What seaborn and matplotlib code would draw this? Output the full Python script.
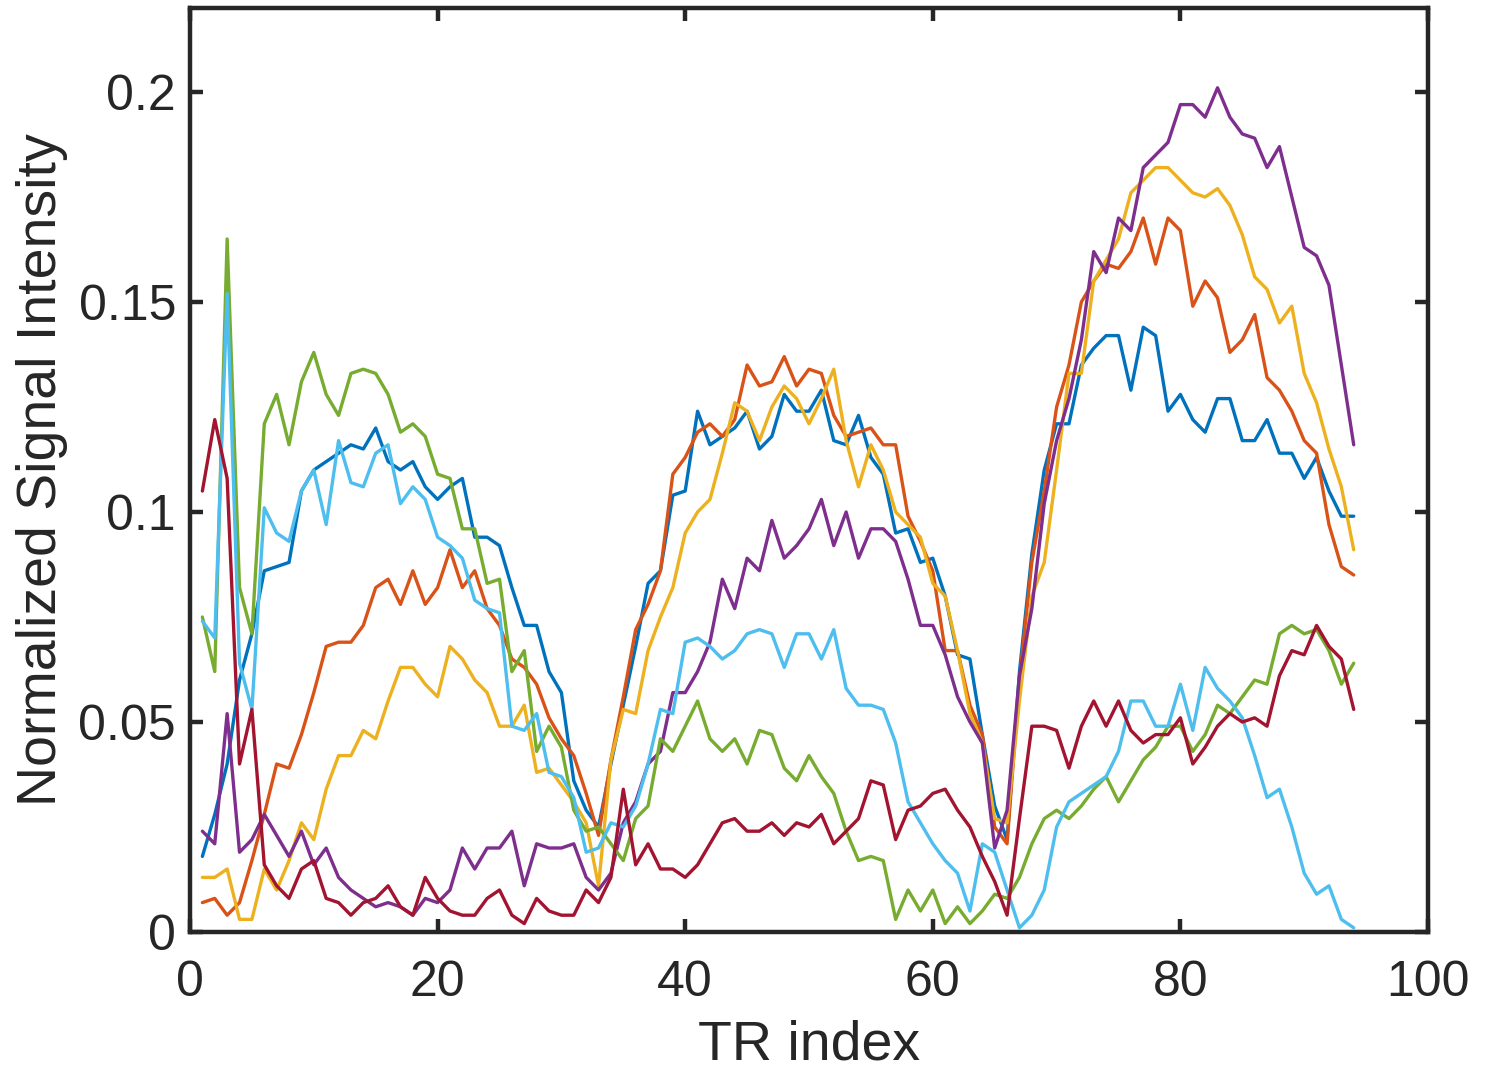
import numpy as np
import pandas as pd
import matplotlib
matplotlib.use("Agg")
import matplotlib.pyplot as plt
import seaborn as sns

tr_index = list(range(1, 95))

s1_blue = [0.018, 0.028, 0.040, 0.060, 0.071, 0.086, 0.087, 0.088, 0.105, 0.110, 0.112, 0.114, 0.116, 0.115, 0.120, 0.112, 0.110,
           0.112, 0.106, 0.103, 0.106, 0.108, 0.094, 0.094, 0.092, 0.082, 0.073, 0.073, 0.062, 0.057, 0.036, 0.029, 0.025,
           0.040, 0.054, 0.068, 0.083, 0.086, 0.104, 0.105, 0.124, 0.116, 0.118, 0.120, 0.124, 0.115, 0.118, 0.128, 0.124, 0.124,
           0.129, 0.117, 0.116, 0.123, 0.113, 0.109, 0.095, 0.096, 0.088, 0.089, 0.080, 0.066, 0.065, 0.047, 0.030, 0.022,
           0.062, 0.090, 0.110, 0.121, 0.121, 0.135, 0.139, 0.142, 0.142, 0.129, 0.144, 0.142, 0.124, 0.128, 0.122, 0.119, 0.127,
           0.127, 0.117, 0.117, 0.122, 0.114, 0.114, 0.108, 0.113, 0.105, 0.099, 0.099]

s2_orange = [0.007, 0.008, 0.004, 0.007, 0.017, 0.028, 0.040, 0.039, 0.047, 0.057, 0.068, 0.069, 0.069, 0.073, 0.082, 0.084, 0.078,
             0.086, 0.078, 0.082, 0.091, 0.082, 0.086, 0.077, 0.073, 0.065, 0.063, 0.059, 0.051, 0.046, 0.042, 0.033, 0.023,
             0.041, 0.056, 0.072, 0.078, 0.086, 0.109, 0.113, 0.119, 0.121, 0.118, 0.122, 0.135, 0.130, 0.131, 0.137, 0.130, 0.134,
             0.133, 0.123, 0.118, 0.119, 0.120, 0.116, 0.116, 0.099, 0.093, 0.086, 0.067, 0.067, 0.054, 0.047, 0.025, 0.021,
             0.060, 0.088, 0.105, 0.125, 0.135, 0.150, 0.155, 0.159, 0.158, 0.162, 0.170, 0.159, 0.170, 0.167, 0.149, 0.155, 0.151,
             0.138, 0.141, 0.147, 0.132, 0.129, 0.124, 0.117, 0.114, 0.097, 0.087, 0.085]

s3_yellow = [0.013, 0.013, 0.015, 0.003, 0.003, 0.015, 0.010, 0.017, 0.026, 0.022, 0.034, 0.042, 0.042, 0.048, 0.046, 0.055, 0.063,
             0.063, 0.059, 0.056, 0.068, 0.065, 0.060, 0.057, 0.049, 0.049, 0.054, 0.038, 0.039, 0.035, 0.031, 0.026, 0.011,
             0.041, 0.053, 0.052, 0.067, 0.075, 0.082, 0.095, 0.100, 0.103, 0.114, 0.126, 0.124, 0.117, 0.125, 0.130, 0.127, 0.121,
             0.127, 0.134, 0.117, 0.106, 0.116, 0.110, 0.100, 0.097, 0.094, 0.083, 0.080, 0.067, 0.052, 0.045, 0.027, 0.026,
             0.055, 0.080, 0.088, 0.110, 0.133, 0.133, 0.155, 0.160, 0.165, 0.176, 0.179, 0.182, 0.182, 0.179, 0.176, 0.175, 0.177,
             0.173, 0.166, 0.156, 0.153, 0.145, 0.149, 0.133, 0.126, 0.115, 0.106, 0.091]

s4_purple = [0.024, 0.021, 0.052, 0.019, 0.022, 0.028, 0.023, 0.018, 0.024, 0.016, 0.020, 0.013, 0.010, 0.008, 0.006, 0.007, 0.006,
             0.004, 0.008, 0.007, 0.010, 0.020, 0.015, 0.020, 0.020, 0.024, 0.011, 0.021, 0.020, 0.020, 0.021, 0.013, 0.010,
             0.014, 0.026, 0.031, 0.040, 0.043, 0.057, 0.057, 0.062, 0.069, 0.084, 0.077, 0.089, 0.086, 0.098, 0.089, 0.092, 0.096,
             0.103, 0.092, 0.100, 0.089, 0.096, 0.096, 0.093, 0.084, 0.073, 0.073, 0.066, 0.056, 0.050, 0.045, 0.020, 0.029,
             0.061, 0.077, 0.102, 0.117, 0.127, 0.141, 0.162, 0.157, 0.170, 0.167, 0.182, 0.185, 0.188, 0.197, 0.197, 0.194, 0.201,
             0.194, 0.190, 0.189, 0.182, 0.187, 0.175, 0.163, 0.161, 0.154, 0.135, 0.116]

s5_green = [0.075, 0.062, 0.165, 0.082, 0.071, 0.121, 0.128, 0.116, 0.131, 0.138, 0.128, 0.123, 0.133, 0.134, 0.133, 0.128, 0.119,
            0.121, 0.118, 0.109, 0.108, 0.096, 0.096, 0.083, 0.084, 0.062, 0.067, 0.043, 0.049, 0.044, 0.029, 0.024, 0.025,
            0.021, 0.017, 0.027, 0.030, 0.046, 0.043, 0.049, 0.055, 0.046, 0.043, 0.046, 0.040, 0.048, 0.047, 0.039, 0.036, 0.042,
            0.037, 0.033, 0.024, 0.017, 0.018, 0.017, 0.003, 0.010, 0.005, 0.010, 0.002, 0.006, 0.002, 0.005, 0.009, 0.008,
            0.013, 0.021, 0.027, 0.029, 0.027, 0.030, 0.034, 0.037, 0.031, 0.036, 0.041, 0.044, 0.049, 0.049, 0.043, 0.047, 0.054,
            0.052, 0.056, 0.060, 0.059, 0.071, 0.073, 0.071, 0.072, 0.067, 0.059, 0.064]

s6_cyan = [0.074, 0.070, 0.152, 0.064, 0.053, 0.101, 0.095, 0.093, 0.105, 0.110, 0.097, 0.117, 0.107, 0.106, 0.114, 0.116, 0.102,
           0.106, 0.103, 0.094, 0.092, 0.089, 0.079, 0.077, 0.076, 0.049, 0.048, 0.052, 0.038, 0.037, 0.032, 0.019, 0.020,
           0.026, 0.025, 0.030, 0.040, 0.053, 0.052, 0.069, 0.070, 0.068, 0.065, 0.067, 0.071, 0.072, 0.071, 0.063, 0.071, 0.071,
           0.065, 0.072, 0.058, 0.054, 0.054, 0.053, 0.045, 0.031, 0.026, 0.021, 0.017, 0.014, 0.005, 0.021, 0.019, 0.010,
           0.001, 0.004, 0.010, 0.025, 0.031, 0.033, 0.035, 0.037, 0.043, 0.055, 0.055, 0.049, 0.049, 0.059, 0.048, 0.063, 0.058,
           0.055, 0.051, 0.042, 0.032, 0.034, 0.025, 0.014, 0.009, 0.011, 0.003, 0.001]

s7_red = [0.105, 0.122, 0.108, 0.040, 0.053, 0.016, 0.011, 0.008, 0.015, 0.017, 0.008, 0.007, 0.004, 0.007, 0.008, 0.011, 0.006,
          0.004, 0.013, 0.008, 0.005, 0.004, 0.004, 0.008, 0.010, 0.004, 0.002, 0.008, 0.005, 0.004, 0.004, 0.010, 0.007,
          0.013, 0.034, 0.016, 0.021, 0.015, 0.015, 0.013, 0.016, 0.021, 0.026, 0.027, 0.024, 0.024, 0.026, 0.023, 0.026, 0.025,
          0.028, 0.021, 0.024, 0.027, 0.036, 0.035, 0.022, 0.029, 0.030, 0.033, 0.034, 0.029, 0.025, 0.018, 0.012, 0.004,
          0.027, 0.049, 0.049, 0.048, 0.039, 0.049, 0.055, 0.049, 0.055, 0.048, 0.045, 0.047, 0.047, 0.051, 0.040, 0.044, 0.049,
          0.052, 0.050, 0.051, 0.049, 0.061, 0.067, 0.066, 0.073, 0.068, 0.065, 0.053]

series_names = ["s1", "s2", "s3", "s4", "s5", "s6", "s7"]
series_values = [s1_blue, s2_orange, s3_yellow, s4_purple, s5_green, s6_cyan, s7_red]
colors = ["#0072BD", "#D95319", "#EDB120", "#7E2F8E", "#77AC30", "#4DBEEE", "#A2142F"]

x_ticks = [0, 20, 40, 60, 80, 100]
y_ticks = [0, 0.05, 0.1, 0.15, 0.2]
y_tick_labels = ["0", "0.05", "0.1", "0.15", "0.2"]

rows = []
for name, vals in zip(series_names, series_values):
    for x, v in zip(tr_index, vals):
        rows.append({"TR": x, "value": v, "series": name})
df = pd.DataFrame(rows)

sns.set_theme(style="white")
plt.rcParams["font.family"] = ["Liberation Sans", "DejaVu Sans"]

fig = plt.figure(figsize=(14.99, 10.76), dpi=100)
ax = fig.add_axes([190 / 1499, 1 - 932 / 1076, (1428 - 190) / 1499, (932 - 8) / 1076])

sns.lineplot(data=df, x="TR", y="value", hue="series", hue_order=series_names,
             palette=colors, linewidth=2.4, legend=False, ax=ax, estimator=None, sort=False)

ax.set_xlim(0, 100)
ax.set_ylim(0, 0.22)
ax.set_xticks(x_ticks)
ax.set_xticklabels([str(t) for t in x_ticks])
ax.set_yticks(y_ticks)
ax.set_yticklabels(y_tick_labels)

dark = "#262626"
for sp in ax.spines.values():
    sp.set_visible(True)
    sp.set_color(dark)
    sp.set_linewidth(3.2)

ax.tick_params(axis="both", which="both", direction="in", length=9.5, width=3.2,
               colors=dark, labelsize=36, top=True, right=True, bottom=True, left=True,
               labelcolor=dark)
ax.tick_params(axis="x", pad=20)
ax.tick_params(axis="y", pad=10)

ax.set_xlabel("TR index", fontsize=40, color=dark)
ax.set_ylabel("Normalized Signal Intensity", fontsize=40, color=dark)
ax.xaxis.set_label_coords(0.5, (932 - 1046) / 924, transform=ax.transAxes)
ax.xaxis.label.set_va("center")
ax.yaxis.set_label_coords((42 - 190) / 1238, 0.5, transform=ax.transAxes)
ax.yaxis.label.set_va("center")

fig.savefig("out.png", dpi=100)
